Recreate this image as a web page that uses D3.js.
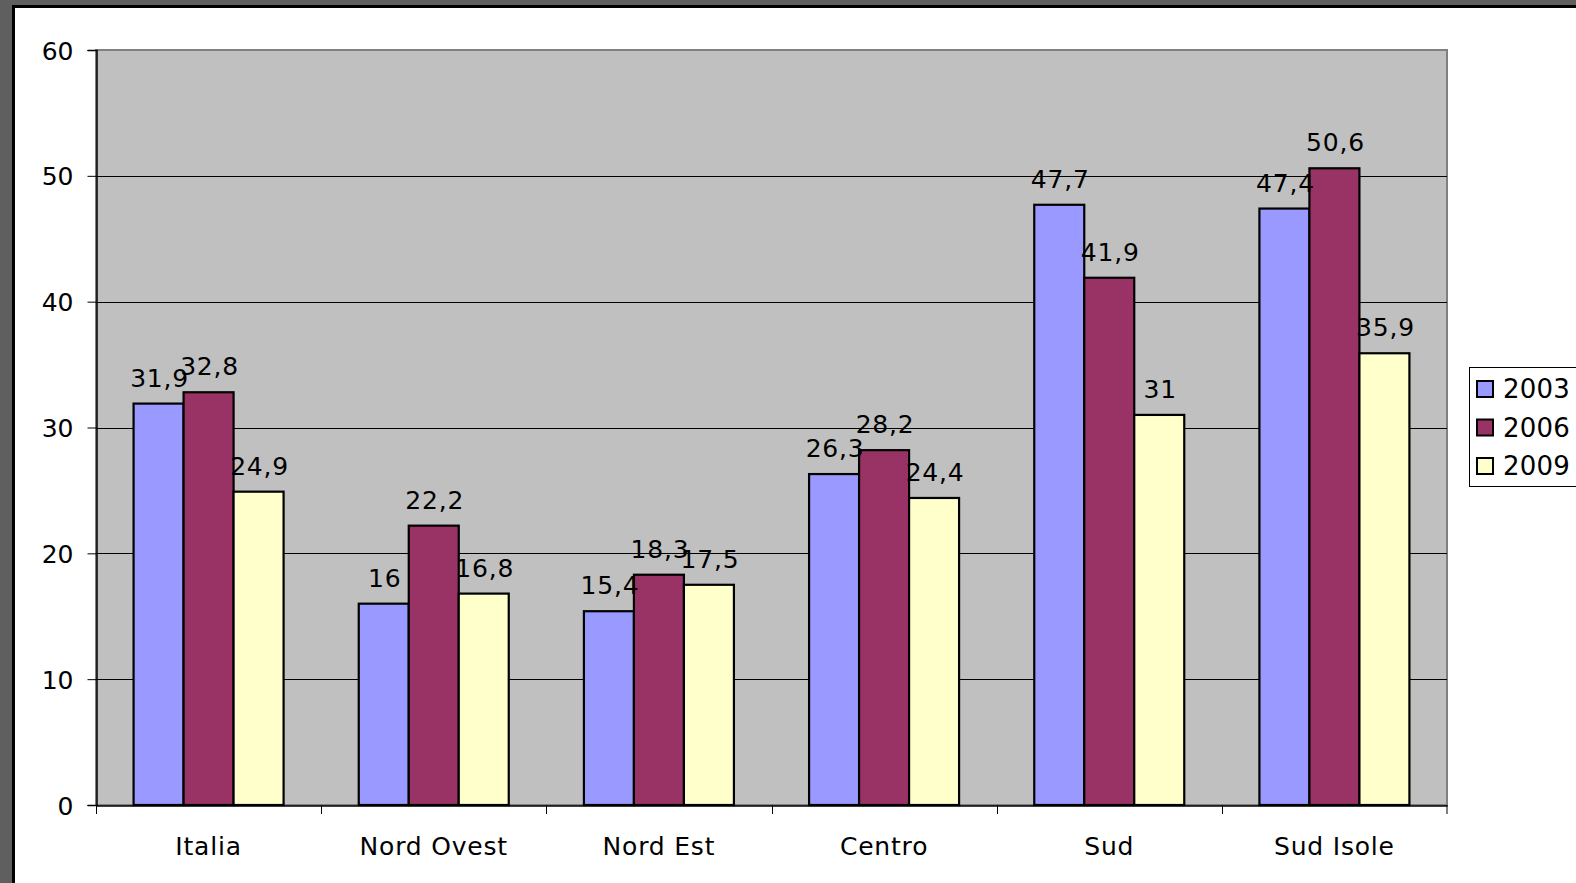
<!DOCTYPE html>
<html>
<head>
<meta charset="utf-8">
<script src="https://cdn.jsdelivr.net/npm/d3@7"></script>
<style>
  html, body { margin: 0; padding: 0; background: #fff; }
  text { font-family: "DejaVu Sans", Verdana, sans-serif; fill: #000; }
</style>
</head>
<body>
<svg id="chart" width="1576" height="883"></svg>
<script>
var categories = ["Italia", "Nord Ovest", "Nord Est", "Centro", "Sud", "Sud Isole"];
var years = ["2003", "2006", "2009"];
var values2003 = [31.9, 16, 15.4, 26.3, 47.7, 47.4];
var values2006 = [32.8, 22.2, 18.3, 28.2, 41.9, 50.6];
var values2009 = [24.9, 16.8, 17.5, 24.4, 31, 35.9];
var yTicks = [0, 10, 20, 30, 40, 50, 60];
var colors = ["#9999ff", "#993366", "#ffffcc"];

var series = [values2003, values2006, values2009];
var rows = [];
categories.forEach(function(c, i) {
    series.forEach(function(s, j) {
        rows.push({cat: c, year: years[j], value: s[i], idx: j});
    });
});

var svg = d3.select("#chart");

// window frame
svg.append("rect").attr("x", 0).attr("y", 0).attr("width", 1576).attr("height", 883).attr("fill", "#5f5f5f");
svg.append("rect").attr("x", 12).attr("y", 5).attr("width", 1564).attr("height", 878).attr("fill", "#000");
svg.append("rect").attr("x", 15).attr("y", 8).attr("width", 1561).attr("height", 875).attr("fill", "#fff");

var plotLeft = 96, plotRight = 1447, plotTop = 50, plotBottom = 805;

var x = d3.scaleBand().domain(categories).range([plotLeft, plotRight]);
var pad = (x.bandwidth() - 150) / 2;
var xInner = d3.scaleBand().domain(years).range([pad, x.bandwidth() - pad]);
var y = d3.scaleLinear().domain([0, 60]).range([plotBottom, plotTop]);

// plot background
svg.append("rect")
    .attr("x", plotLeft).attr("y", plotTop)
    .attr("width", plotRight - plotLeft).attr("height", plotBottom - plotTop)
    .attr("fill", "#c0c0c0")
    .attr("stroke", "#808080").attr("stroke-width", 2);

// gridlines
svg.append("g").selectAll("line")
    .data(yTicks.filter(function(d){ return d > 0 && d < 60; }))
    .enter().append("line")
    .attr("x1", plotLeft).attr("x2", plotRight)
    .attr("y1", function(d){ return Math.round(y(d)) + 0.5; })
    .attr("y2", function(d){ return Math.round(y(d)) + 0.5; })
    .attr("stroke", "#000").attr("stroke-width", 1);

// bars
svg.append("g").selectAll("rect")
    .data(rows)
    .enter().append("rect")
    .attr("x", function(d){ return x(d.cat) + xInner(d.year); })
    .attr("y", function(d){ return y(d.value); })
    .attr("width", xInner.bandwidth())
    .attr("height", function(d){ return plotBottom - y(d.value); })
    .attr("fill", function(d){ return colors[d.idx]; })
    .attr("stroke", "#000").attr("stroke-width", 2.2);

// y axis
var yAxis = svg.append("g")
    .attr("transform", "translate(" + (plotLeft + 0.5) + ",0)")
    .call(d3.axisLeft(y).tickValues(yTicks).tickSize(9).tickPadding(14).tickFormat(d3.format("d")));
yAxis.select(".domain").attr("stroke", "#000").attr("stroke-width", 1.5);
yAxis.selectAll(".tick line").attr("stroke", "#000");
yAxis.selectAll("text")
    .style("font-size", "25px")
    .style("font-family", "DejaVu Sans, sans-serif")
    .attr("dy", "0.36em");

// x axis
var xAxis = svg.append("g")
    .attr("transform", "translate(0," + (plotBottom + 0.5) + ")")
    .call(d3.axisBottom(x).tickSize(0).tickPadding(0));
xAxis.select(".domain").attr("stroke", "#000").attr("stroke-width", 1.5);
xAxis.selectAll(".tick text")
    .style("font-size", "25px")
    .style("font-family", "DejaVu Sans, sans-serif")
    .style("letter-spacing", "0.8px")
    .attr("y", 49).attr("dy", 0);
// category boundary ticks
svg.append("g").selectAll("line")
    .data(categories.concat(["_end"]))
    .enter().append("line")
    .attr("x1", function(d){ return d === "_end" ? plotRight : Math.round(x(d)) + 0.5; })
    .attr("x2", function(d){ return d === "_end" ? plotRight : Math.round(x(d)) + 0.5; })
    .attr("y1", plotBottom).attr("y2", plotBottom + 9)
    .attr("stroke", "#000").attr("stroke-width", 1);

// data labels
svg.append("g").selectAll("text")
    .data(rows)
    .enter().append("text")
    .attr("x", function(d){ return x(d.cat) + xInner(d.year) + xInner.bandwidth() / 2 + 1; })
    .attr("y", function(d){ return y(d.value) - 17; })
    .attr("text-anchor", "middle")
    .style("font-size", "25px")
    .style("letter-spacing", "0.8px")
    .text(function(d){ return String(d.value).replace(".", ","); });

// legend
var legend = svg.append("g");
legend.append("rect")
    .attr("x", 1469.5).attr("y", 367.5).attr("width", 120).attr("height", 119)
    .attr("fill", "#fff").attr("stroke", "#000").attr("stroke-width", 1);
var items = legend.selectAll("g.item")
    .data(years)
    .enter().append("g")
    .attr("class", "item")
    .attr("transform", function(d, i){ return "translate(0," + (389 + i * 38.5) + ")"; });
items.append("rect")
    .attr("x", 1477).attr("y", -8).attr("width", 16).attr("height", 16)
    .attr("fill", function(d, i){ return colors[i]; })
    .attr("stroke", "#000").attr("stroke-width", 2);
items.append("text")
    .attr("x", 1503).attr("y", 0).attr("dy", "0.36em")
    .style("font-size", "26px")
    .style("letter-spacing", "0.2px")
    .text(function(d){ return d; });
</script>
</body>
</html>
